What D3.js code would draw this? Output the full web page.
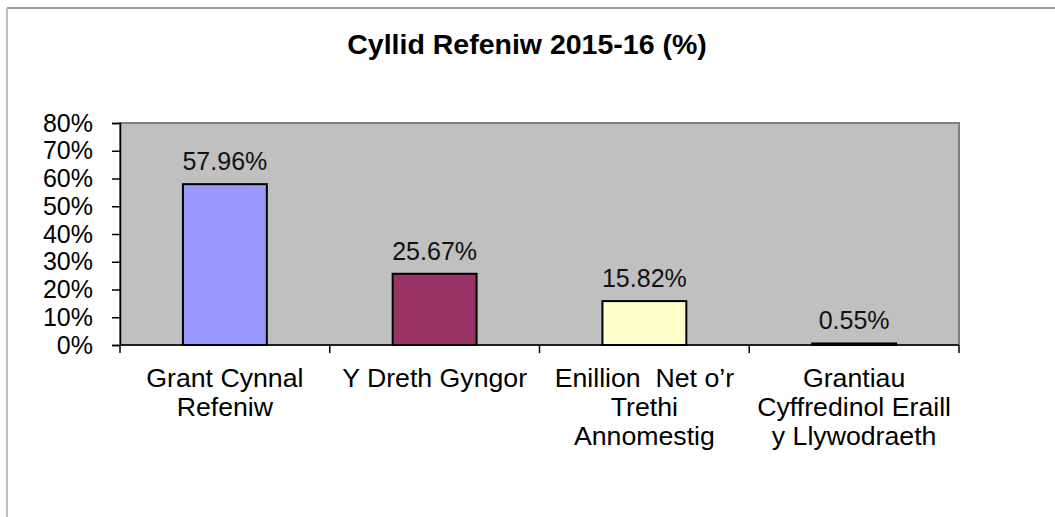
<!DOCTYPE html>
<html lang="cy">
<head>
  <meta charset="utf-8">
  <title>Cyllid Refeniw 2015-16 (%)</title>
  <script src="https://cdn.jsdelivr.net/npm/d3@7"></script>
  <style>
    body { margin: 0; background: #fff; }
    text { font-family: "Liberation Sans", Arial, sans-serif; fill: #000; }
  </style>
</head>
<body>
<script>
  // Data
  const categories = ["Grant Cynnal Refeniw", "Y Dreth Gyngor", "Enillion Net o'r Trethi Annomestig", "Grantiau Cyffredinol Eraill y Llywodraeth"];
  const categoryLines = [
    ["Grant Cynnal", "Refeniw"],
    ["Y Dreth Gyngor"],
    ["Enillion  Net o\u2019r", "Trethi", "Annomestig"],
    ["Grantiau", "Cyffredinol Eraill", "y Llywodraeth"]
  ];
  const values = [57.96, 25.67, 15.82, 0.55];
  const barColors = ["#9999ff", "#993366", "#ffffcc", "#ccffff"];
  const yTicks = [0, 10, 20, 30, 40, 50, 60, 70, 80];

  const w = 1055, h = 517;
  const plot = { left: 120, top: 123, right: 959, bottom: 345 };

  const svg = d3.select("body").append("svg")
    .attr("width", w)
    .attr("height", h);

  // chart border (only top and left visible)
  svg.append("line").attr("x1", 7).attr("y1", 8).attr("x2", w).attr("y2", 8)
    .attr("stroke", "#7a7a7a").attr("stroke-width", 1.5);
  svg.append("line").attr("x1", 7).attr("y1", 8).attr("x2", 7).attr("y2", h)
    .attr("stroke", "#a8a8a8").attr("stroke-width", 1.5);

  // title
  svg.append("text")
    .attr("x", 527)
    .attr("y", 54)
    .attr("text-anchor", "middle")
    .style("font-size", "28.5px")
    .style("font-weight", "bold")
    .text("Cyllid Refeniw 2015-16 (%)");

  const xScale = d3.scaleBand()
    .domain(categories)
    .range([plot.left, plot.right]);

  const yScale = d3.scaleLinear()
    .domain([0, 80])
    .range([plot.bottom, plot.top]);

  // plot area
  svg.append("rect")
    .attr("x", plot.left)
    .attr("y", plot.top)
    .attr("width", plot.right - plot.left)
    .attr("height", plot.bottom - plot.top)
    .attr("fill", "#c0c0c0")
    .attr("stroke", "#808080")
    .attr("stroke-width", 2);

  // bars
  const barW = xScale.bandwidth() * 0.4;
  svg.selectAll("rect.bar")
    .data(values)
    .enter()
    .append("rect")
    .attr("class", "bar")
    .attr("x", (d, i) => xScale(categories[i]) + (xScale.bandwidth() - barW) / 2)
    .attr("y", d => yScale(d))
    .attr("width", barW)
    .attr("height", d => yScale(0) - yScale(d))
    .attr("fill", (d, i) => barColors[i])
    .attr("stroke", "#000")
    .attr("stroke-width", 2);

  // data labels
  svg.selectAll("text.lbl")
    .data(values)
    .enter()
    .append("text")
    .attr("class", "lbl")
    .attr("x", (d, i) => xScale(categories[i]) + xScale.bandwidth() / 2)
    .attr("y", d => yScale(d) - 14)
    .attr("text-anchor", "middle")
    .style("font-size", "25px")
    .style("fill", "#111")
    .text(d => d.toFixed(2) + "%");

  // y axis
  const yAxis = d3.axisLeft(yScale)
    .tickValues(yTicks)
    .tickSize(8)
    .tickPadding(19)
    .tickFormat(d => d + "%");
  const gy = svg.append("g")
    .attr("transform", `translate(${plot.left},0)`)
    .call(yAxis);
  gy.select(".domain").attr("stroke", "#000").attr("stroke-width", 1.5);
  gy.selectAll(".tick line").attr("stroke", "#000").attr("stroke-width", 1.5);
  gy.selectAll(".tick text")
    .style("font-size", "25px")
    .style("font-family", "'Liberation Sans', Arial, sans-serif")
    .attr("fill", "#000");

  // x axis: tick marks at band boundaries
  const bounds = categories.map(c => xScale(c)).concat([plot.right]);
  svg.append("line")
    .attr("x1", plot.left).attr("x2", plot.right)
    .attr("y1", plot.bottom).attr("y2", plot.bottom)
    .attr("stroke", "#000").attr("stroke-width", 1.5);
  svg.selectAll("line.xt")
    .data(bounds)
    .enter()
    .append("line")
    .attr("class", "xt")
    .attr("x1", d => d).attr("x2", d => d)
    .attr("y1", plot.bottom).attr("y2", plot.bottom + 8)
    .attr("stroke", "#000").attr("stroke-width", 1.5);

  // category labels
  const catText = svg.selectAll("text.cat")
    .data(categories)
    .enter()
    .append("text")
    .attr("class", "cat")
    .attr("text-anchor", "middle")
    .style("font-size", "26.7px");
  catText.each(function (c, i) {
    const t = d3.select(this);
    const cx = xScale(c) + xScale.bandwidth() / 2;
    categoryLines[i].forEach((ln, j) => {
      t.append("tspan")
        .attr("x", cx)
        .attr("y", 387 + j * 29)
        .style("white-space", "pre")
        .text(ln);
    });
  });
</script>
</body>
</html>
